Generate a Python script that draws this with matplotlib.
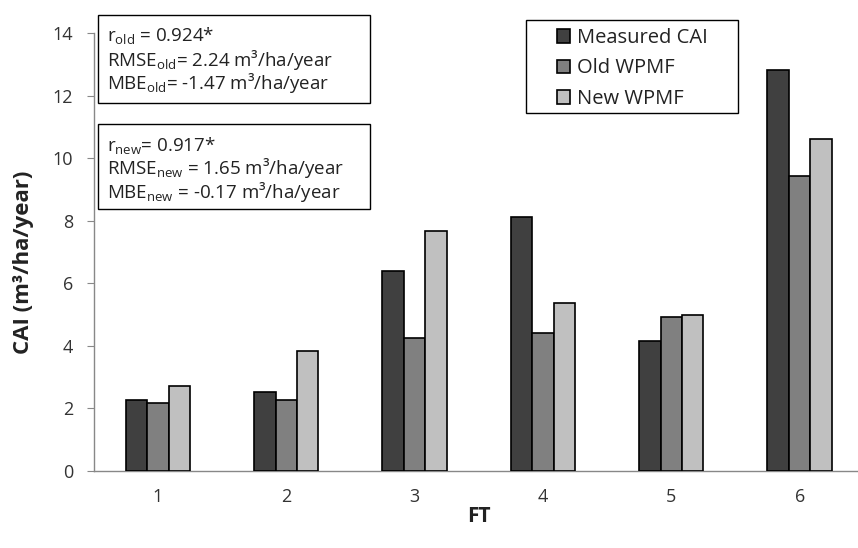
import matplotlib
matplotlib.use("Agg")
import matplotlib.pyplot as plt
from matplotlib.patches import Rectangle
import numpy as np

categories = ["1", "2", "3", "4", "5", "6"]
measured = [2.27, 2.53, 6.39, 8.11, 4.16, 12.82]
old_wpmf = [2.17, 2.26, 4.25, 4.40, 4.93, 9.43]
new_wpmf = [2.72, 3.85, 7.67, 5.38, 4.99, 10.60]
series_names = ["Measured CAI", "Old WPMF", "New WPMF"]
colors = ["#404040", "#808080", "#c0c0c0"]

plt.rcParams['font.family'] = ['Open Sans', 'DejaVu Sans']
plt.rcParams['mathtext.fontset'] = 'custom'
plt.rcParams['mathtext.rm'] = 'Open Sans'
plt.rcParams['mathtext.it'] = 'Open Sans:italic'
plt.rcParams['mathtext.bf'] = 'Open Sans:bold'

W, H = 858, 548
fig = plt.figure(figsize=(W / 100, H / 100), dpi=100)
ax = fig.add_axes([93.8 / W, 77 / H, 770 / W, 438 / H])

x = np.arange(1, len(categories) + 1)
bw = 0.167
for i, (vals, name, c) in enumerate(zip([measured, old_wpmf, new_wpmf], series_names, colors)):
    ax.bar(x + (i - 1) * bw, vals, width=bw, color=c, edgecolor="black", linewidth=1.2,
           label=name, zorder=3)

ax.set_xlim(0.5, 6.5)
ax.set_ylim(0, 14)
ax.set_yticks(np.arange(0, 15, 2))
ax.set_xticks(x)
ax.set_xticklabels(categories)
for s in ["top", "right"]:
    ax.spines[s].set_visible(False)
for s in ["left", "bottom"]:
    ax.spines[s].set_color("#888888")
    ax.spines[s].set_linewidth(1.0)
ax.tick_params(axis="y", direction="out", length=5, color="#888888", labelsize=13,
               labelcolor="#333333", pad=10)
ax.tick_params(axis="x", length=0, labelsize=13, labelcolor="#333333", pad=12)
ax.set_ylabel("CAI (m³/ha/year)", fontsize=16, fontweight="bold", color="#222222")
ax.yaxis.set_label_coords((24 - 93.8) / 770, (471 - 262) / 438)
ax.set_xlabel("FT", fontsize=15, fontweight="bold", color="#222222")
ax.xaxis.set_label_coords(0.5, (471 - 517) / 438)
ax.xaxis.label.set_va("center")
ax.yaxis.label.set_va("center")

# legend with manual frame
fig.patches.append(Rectangle((526 / W, 1 - 113 / H), 212 / W, 93 / H,
                             transform=fig.transFigure, facecolor="white",
                             edgecolor="black", linewidth=1.0, zorder=5))
leg = fig.legend(loc="upper left", bbox_to_anchor=(557 / W, 1 - 28 / H),
                 frameon=False, fontsize=14.5,
                 handlelength=0.65, handleheight=0.65, handletextpad=0.35,
                 borderpad=0, labelspacing=0.52, borderaxespad=0)
leg.set_zorder(6)
for t in leg.get_texts():
    t.set_color("#222222")

# stats boxes
boxes = [
    (15, 103, ["r$_{\\mathrm{old}}$ = 0.924*",
               "RMSE$_{\\mathrm{old}}$= 2.24 m³/ha/year",
               "MBE$_{\\mathrm{old}}$= -1.47 m³/ha/year"]),
    (124, 209, ["r$_{\\mathrm{new}}$= 0.917*",
                "RMSE$_{\\mathrm{new}}$ = 1.65 m³/ha/year",
                "MBE$_{\\mathrm{new}}$ = -0.17 m³/ha/year"]),
]
for top, bot, lines in boxes:
    fig.patches.append(Rectangle((98 / W, 1 - bot / H), 272 / W, (bot - top) / H,
                                 transform=fig.transFigure, facecolor="white",
                                 edgecolor="black", linewidth=1.0, zorder=5))
    for k, line in enumerate(lines):
        yy = top + 21 + k * 23.5
        fig.text(107 / W, 1 - yy / H, line, fontsize=13.5, color="#222222",
                 va="center", ha="left", zorder=6)

fig.savefig("out.png", dpi=100)
